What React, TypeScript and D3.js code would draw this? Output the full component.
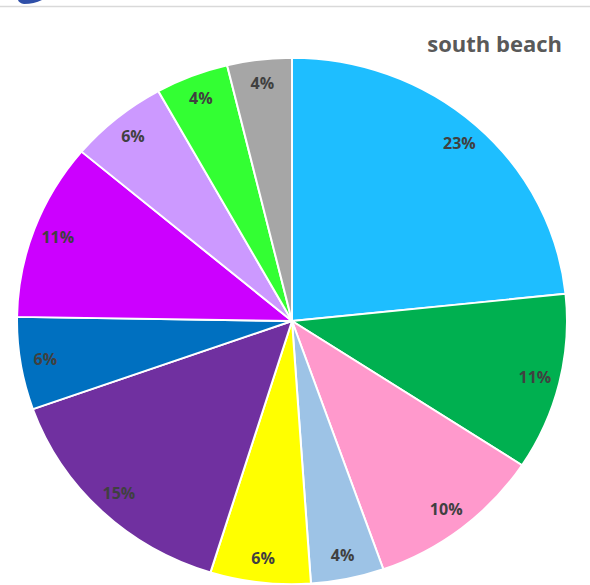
import { useEffect, useRef } from "react";
import * as d3 from "d3";

// slice shares (percent)
const categories = ["A", "B", "C", "D", "E", "F", "G", "H", "I", "J", "K"];
const values = [23.4, 10.9, 10.4, 4.3, 5.9, 14.8, 5.7, 10.9, 5.8, 4.3, 3.8];
const colors = [
  "#1ebeff", "#00b050", "#ff99cc", "#9dc3e6", "#ffff00", "#7030a0",
  "#0070c0", "#cc00ff", "#cc99ff", "#33ff33", "#a6a6a6",
];
const title = "south beach";

const PieChart = () => {
  const ref = useRef<SVGSVGElement | null>(null);

  useEffect(() => {
    if (!ref.current) return;
    const svg = d3.select(ref.current);
    svg.selectAll("*").remove();

    const width = 590;
    const height = 585;
    const cx = 292;
    const cy = 321;
    const r = 275;
    const squash = 0.957; // the original is slightly flattened

    svg.attr("width", width).attr("height", height);

    // header line and logo fragment
    svg.append("path")
      .attr("d", "M18,0 L42,0 Q34,4 24,4 Q19,3 18,0 Z")
      .attr("fill", "#2f4fa8");
    svg.append("line")
      .attr("x1", 0).attr("x2", width)
      .attr("y1", 6.5).attr("y2", 6.5)
      .attr("stroke", "#d9d9d9").attr("stroke-width", 1.5);

    const total = d3.sum(values);
    const data = categories.map((c, i) => ({ c, v: values[i], color: colors[i] }));

    const pie = d3.pie<typeof data[number]>()
      .value(d => d.v)
      .sort(null);
    const arcs = pie(data);

    const arc = d3.arc<d3.PieArcDatum<typeof data[number]>>()
      .innerRadius(0)
      .outerRadius(r);
    const labelArc = d3.arc<d3.PieArcDatum<typeof data[number]>>()
      .innerRadius(250)
      .outerRadius(250);

    const g = svg.append("g")
      .attr("transform", `translate(${cx},${cy}) scale(1,${squash})`);

    g.selectAll("path.slice")
      .data(arcs)
      .enter().append("path")
      .attr("class", "slice")
      .attr("d", arc)
      .attr("fill", d => d.data.color)
      .attr("stroke", "#ffffff")
      .attr("stroke-width", 2)
      .attr("stroke-linejoin", "round");

    const fmt = d3.format(".0%");
    svg.selectAll("text.lbl")
      .data(arcs)
      .enter().append("text")
      .attr("class", "lbl")
      .attr("x", d => cx + labelArc.centroid(d)[0])
      .attr("y", d => cy + labelArc.centroid(d)[1] * squash)
      .attr("dy", "0.35em")
      .attr("text-anchor", "middle")
      .attr("font-family", "'Open Sans', 'Liberation Sans', sans-serif")
      .attr("font-weight", "bold")
      .attr("font-size", 16)
      .attr("fill", "#404040")
      .text(d => fmt(d.data.v / total));

    svg.append("text")
      .attr("x", 562)
      .attr("y", 52)
      .attr("text-anchor", "end")
      .attr("font-family", "'Open Sans', 'Liberation Sans', sans-serif")
      .attr("font-weight", "bold")
      .attr("font-size", 22)
      .attr("fill", "#595959")
      .text(title);
  }, []);

  return (
    <svg
      ref={ref}
      style={{ position: "absolute", left: 0, top: 0, display: "block", background: "#fff" }}
    ></svg>
  );
};

export default function App() {
  return <PieChart />;
}
